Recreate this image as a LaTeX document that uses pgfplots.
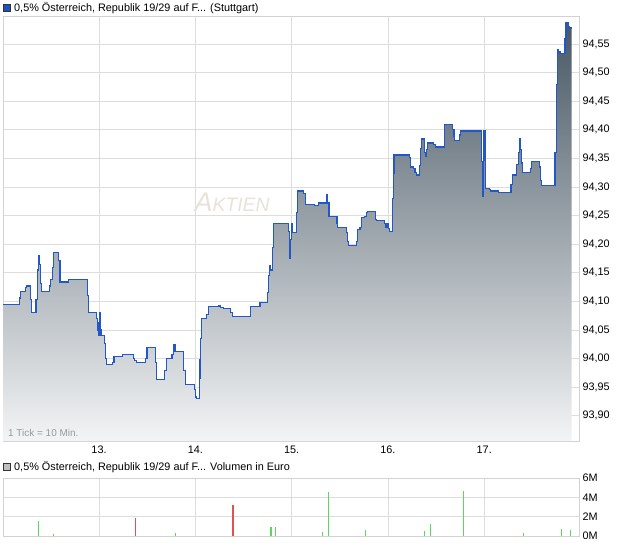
\documentclass[border=0pt]{standalone}
\usepackage{fontspec}
\setmainfont{Liberation Sans}
\usepackage{pgfplots}
\usepackage{pgfplotstable}
\pgfplotsset{compat=1.18}
\definecolor{gridgray}{RGB}{221,221,221}
\definecolor{bordergray}{RGB}{210,210,210}
\definecolor{lineblue}{RGB}{33,87,201}
\definecolor{filltop}{RGB}{72,88,100}
\definecolor{fillbot}{RGB}{243,244,245}
\definecolor{volgreen}{RGB}{95,212,95}
\definecolor{volred}{RGB}{222,82,82}
\definecolor{watermark}{RGB}{232,226,218}
\definecolor{legblue}{RGB}{31,80,190}

\pgfplotstableread{
x y
12.003 94.094
12.173 94.106
12.187 94.118
12.235 94.124
12.249 94.127
12.290 94.103
12.297 94.080
12.346 94.103
12.360 94.155
12.370 94.180
12.380 94.164
12.391 94.132
12.401 94.118
12.484 94.127
12.498 94.138
12.515 94.160
12.526 94.185
12.581 94.171
12.595 94.134
12.682 94.138
12.882 94.110
12.889 94.080
12.976 94.070
12.983 94.050
12.990 94.063
12.997 94.040
13.003 94.080
13.010 94.050
13.021 94.040
13.059 94.026
13.069 94.001
13.080 93.989
13.142 93.993
13.156 94.003
13.246 94.007
13.294 94.008
13.357 94.001
13.370 93.996
13.391 93.993
13.485 94.001
13.498 94.019
13.585 93.993
13.595 93.963
13.678 93.980
13.699 94.001
13.758 94.007
13.772 94.015
13.779 94.024
13.789 94.012
13.876 93.980
13.897 93.954
13.990 93.946
14.004 93.933
14.011 93.930
14.042 93.965
14.049 93.998
14.056 94.035
14.066 94.070
14.118 94.077
14.135 94.091
14.239 94.092
14.263 94.089
14.291 94.087
14.367 94.080
14.385 94.073
14.575 94.091
14.672 94.098
14.748 94.115
14.758 94.146
14.769 94.162
14.779 94.155
14.800 94.195
14.810 94.237
14.966 94.222
14.976 94.176
14.983 94.208
14.994 94.237
15.004 94.220
15.053 94.256
15.063 94.293
15.122 94.288
15.143 94.270
15.233 94.267
15.281 94.272
15.364 94.286
15.375 94.272
15.388 94.249
15.471 94.237
15.478 94.229
15.572 94.220
15.582 94.204
15.593 94.197
15.676 94.204
15.686 94.225
15.710 94.229
15.728 94.246
15.755 94.248
15.773 94.255
15.786 94.258
15.869 94.244
15.883 94.241
15.963 94.237
15.980 94.230
15.994 94.236
16.004 94.228
16.015 94.223
16.046 94.280
16.056 94.323
16.063 94.356
16.223 94.351
16.236 94.335
16.264 94.333
16.281 94.326
16.299 94.321
16.326 94.337
16.340 94.368
16.351 94.384
16.378 94.361
16.389 94.353
16.396 94.365
16.409 94.377
16.472 94.374
16.493 94.370
16.583 94.391
16.590 94.410
16.673 94.400
16.686 94.388
16.693 94.381
16.742 94.391
16.756 94.398
16.974 94.344
16.981 94.283
16.991 94.370
16.998 94.398
17.008 94.347
17.015 94.298
17.053 94.295
17.067 94.293
17.147 94.291
17.278 94.304
17.292 94.321
17.337 94.339
17.354 94.360
17.365 94.384
17.375 94.365
17.389 94.342
17.399 94.325
17.476 94.333
17.489 94.344
17.572 94.335
17.586 94.312
17.597 94.302
17.735 94.361
17.753 94.480
17.763 94.541
17.773 94.536
17.787 94.533
17.839 94.559
17.849 94.587
17.874 94.581
17.884 94.578
17.908 94.578
}\price

\pgfplotstableread{
x v
12.373 1.55
12.531 0.20
13.796 0.30
14.786 0.95
14.828 0.95
15.316 0.40
15.385 4.55
15.765 0.60
16.382 0.50
16.444 1.20
16.787 4.65
17.408 0.30
17.806 0.75
17.896 0.65
}\volup

\pgfplotstableread{
x v
13.379 1.85
14.391 3.20
}\voldown

\begin{document}
\begin{tikzpicture}[font=\fontsize{10.9}{12}\selectfont]
\useasboundingbox (0,0) rectangle (620bp,-546bp);

% main legend
\draw[black!80, line width=0.5bp, fill=legblue] (3bp,-4bp) rectangle (10bp,-11bp);
\node[anchor=base west, inner sep=0pt] at (14bp,-11.5bp) {0,5\% Österreich, Republik 19/29 auf F... (Stuttgart)};

\begin{axis}[
  at={(3bp,-441bp)}, anchor=south west,
  width=576bp, height=425bp, scale only axis,
  xmin=12.003, xmax=17.984, ymin=93.856, ymax=94.599,
  xtick={13,14,15,16,17},
  xticklabels={13.,14.,15.,16.,17.},
  ytick={93.90,93.95,94.00,94.05,94.10,94.15,94.20,94.25,94.30,94.35,94.40,94.45,94.50,94.55},
  yticklabel pos=right,
  y tick label style={/pgf/number format/.cd, fixed, fixed zerofill, precision=2, use comma},
  x tick label style={yshift=-1.5bp},
  /pgf/number format/assume math mode=true,
  grid=major,
  major grid style={color=gridgray, line width=0.7bp},
  axis line style={color=bordergray, line width=0.7bp},
  tick style={draw=none},
  tick label style={font=\fontsize{10.9}{12}\selectfont, text=black},
]
\node[anchor=base west, inner sep=0pt, text=watermark] at (axis cs:13.99,94.257)
  {\fontsize{27}{27}\selectfont\itshape A\fontsize{19.5}{19.5}\selectfont KTIEN};
\addplot[const plot, draw=none, top color=filltop, bottom color=fillbot]
  table[x=x, y=y] {\price} |- (rel axis cs:0,0) -- cycle;
\addplot[const plot, color=lineblue, line width=1.1bp] table[x=x, y=y] {\price};
\node[anchor=base west, inner sep=0pt, text=black!40] at (rel axis cs:0,0) [xshift=5bp, yshift=4.5bp]
  {\fontsize{10}{12}\selectfont 1 Tick = 10 Min.};
\end{axis}

% volume legend
\draw[black!80, line width=0.5bp, fill=black!25] (3bp,-463bp) rectangle (10bp,-470bp);
\node[anchor=base west, inner sep=0pt] at (14bp,-470.5bp) {0,5\% Österreich, Republik 19/29 auf F... Volumen in Euro};

\begin{axis}[
  at={(3bp,-536bp)}, anchor=south west,
  width=576bp, height=58bp, scale only axis,
  xmin=12.003, xmax=17.984, ymin=0, ymax=6,
  xtick={13,14,15,16,17}, xticklabels={},
  ytick={0,2,4,6}, yticklabels={0M,2M,4M,6M},
  yticklabel pos=right,
  grid=major,
  major grid style={color=gridgray, line width=0.7bp},
  axis line style={color=bordergray, line width=0.7bp},
  tick style={draw=none},
  tick label style={font=\fontsize{10.9}{12}\selectfont, text=black},
]
\addplot[ycomb, color=volgreen, line width=1.1bp] table[x=x, y=v] {\volup};
\addplot[ycomb, color=volred, line width=1.1bp] table[x=x, y=v] {\voldown};
\end{axis}
\end{tikzpicture}
\end{document}
